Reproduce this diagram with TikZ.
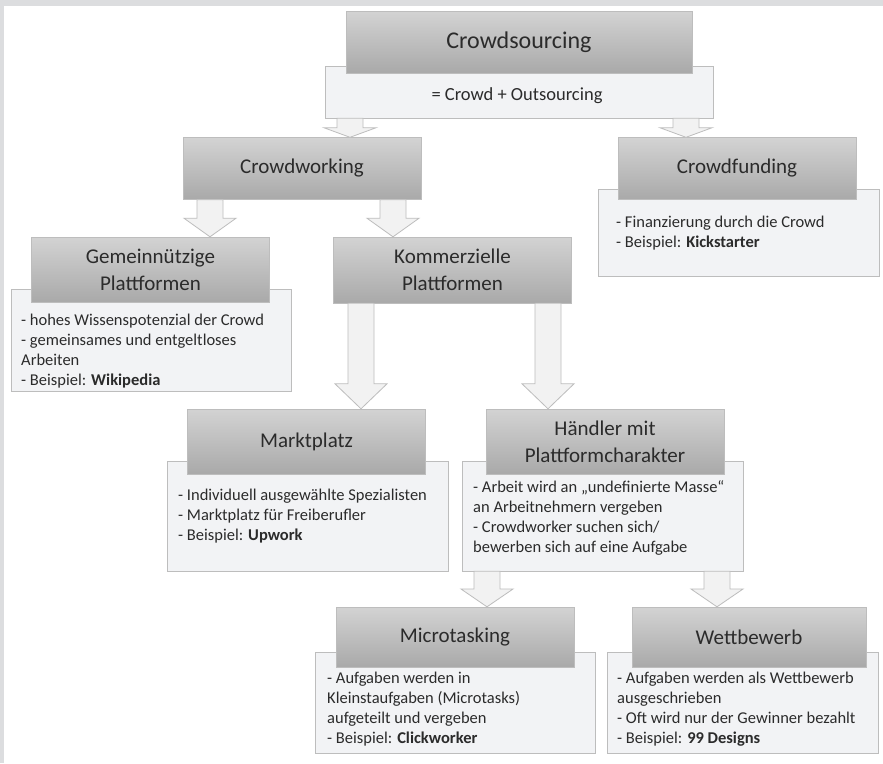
\documentclass[tikz,border=0pt]{standalone}
\usepackage{fontspec}
\setmainfont{Carlito}
\usetikzlibrary{calc}

\definecolor{framegray}{HTML}{DCDDDF}
\definecolor{edgegray}{HTML}{BDBDBD}
\definecolor{headtop}{HTML}{D3D3D3}
\definecolor{headbot}{HTML}{A9A9A9}
\definecolor{bodyfill}{HTML}{F2F3F5}
\definecolor{arrowfill}{HTML}{F2F2F2}
\definecolor{txtgray}{HTML}{2B2B2B}

% block arrow: x position, start node (south), target node (north)
\newcommand{\blockarrow}[3]{%
  \draw[fatarrow] let \p1=(#2.south), \p2=(#3.north),
      \n1={min(0.5*(\y1-\y2),25)} in
    ({#1*1pt-13pt},\y1) -- ({#1*1pt-13pt},{\y2+\n1*1pt})
    -- ({#1*1pt-26pt},{\y2+\n1*1pt}) -- ({#1*1pt},\y2)
    -- ({#1*1pt+26pt},{\y2+\n1*1pt}) -- ({#1*1pt+13pt},{\y2+\n1*1pt})
    -- ({#1*1pt+13pt},\y1) -- cycle;}

\begin{document}
\begin{tikzpicture}[x=1pt,y=-1pt,
    head/.style={draw=edgegray, top color=headtop, bottom color=headbot,
      minimum width=238pt, minimum height=62pt, inner sep=0pt,
      align=center, text=txtgray, font=\fontsize{21}{27}\selectfont},
    body/.style={draw=edgegray, fill=bodyfill, inner sep=0pt},
    txt/.style={anchor=north west, align=left, inner sep=0pt,
      text=txtgray, font=\fontsize{16.5}{20}\selectfont},
    fatarrow/.style={draw=edgegray, fill=arrowfill, line width=0.8pt}]

  % frame
  \fill[framegray] (0,0) rectangle (883,763);
  \fill[white] (4,6) rectangle (883,763);
  \useasboundingbox (0,0) rectangle (883,763);

  % top level
  \node[body, minimum width=388pt, minimum height=52pt] (subsrc) at (519,92) {};
  \node[head, minimum width=346pt, font=\fontsize{24}{29}\selectfont] (src) at (519,42) {Crowdsourcing};
  \node[text=txtgray, font=\fontsize{18.5}{22}\selectfont] (srctxt) at (517,96) {= Crowd + Outsourcing};

  % second level
  \node[head] (work) at (302,168.5) {Crowdworking};
  \node[body, minimum width=281pt, minimum height=87pt] (fundb) at (738.5,232.5) {};
  \node[head] (fund) at (737,168.5) {Crowdfunding};
  \node[txt] (fundtxt) at (616,216) {- Finanzierung durch die Crowd\\- Beispiel: \textbf{Kickstarter}};

  % third level
  \node[body, minimum width=280pt, minimum height=102pt] (gemb) at (151,340) {};
  \node[head, minimum height=65pt] (gem) at (150.5,269.5) {Gemeinnützige\\Plattformen};
  \node[txt] (gemtxt) at (21,314) {- hohes Wissenspotenzial der Crowd\\- gemeinsames und entgeltloses\\Arbeiten\\- Beispiel: \textbf{Wikipedia}};
  \node[head, minimum height=66pt] (kom) at (452.5,270) {Kommerzielle\\Plattformen};

  % fourth level
  \node[body, minimum width=281pt, minimum height=110pt] (marktb) at (307.5,516) {};
  \node[head, minimum height=65pt] (markt) at (306.5,441.5) {Marktplatz};
  \node[txt] (markttxt) at (178,489) {- Individuell ausgewählte Spezialisten\\- Marktplatz für Freiberufler\\- Beispiel: \textbf{Upwork}};
  \node[body, minimum width=281pt, minimum height=110pt] (handb) at (602.5,516) {};
  \node[head, minimum height=65pt] (hand) at (605,441.5) {Händler mit\\Plattformcharakter};
  \node[txt] (handtxt) at (473,480) {- Arbeit wird an „undefinierte Masse“\\an Arbeitnehmern vergeben\\- Crowdworker suchen sich/\\bewerben sich auf eine Aufgabe};

  % fifth level
  \node[body, minimum width=280pt, minimum height=101pt] (microb) at (455,702.5) {};
  \node[head, minimum height=60pt] (micro) at (455,637) {Microtasking};
  \node[txt] (microtxt) at (327,672) {- Aufgaben werden in\\Kleinstaufgaben (Microtasks)\\aufgeteilt und vergeben\\- Beispiel: \textbf{Clickworker}};
  \node[body, minimum width=271pt, minimum height=101pt] (wettb) at (742.5,702.5) {};
  \node[head, minimum width=234pt, minimum height=60pt] (wett) at (749,637) {Wettbewerb};
  \node[txt] (wetttxt) at (617,672) {- Aufgaben werden als Wettbewerb\\ausgeschrieben\\- Oft wird nur der Gewinner bezahlt\\- Beispiel: \textbf{99 Designs}};

  % arrows
  \blockarrow{350}{subsrc}{work}
  \blockarrow{686}{subsrc}{fund}
  \blockarrow{210}{work}{gem}
  \blockarrow{393}{work}{kom}
  \blockarrow{361}{kom}{markt}
  \blockarrow{548}{kom}{hand}
  \blockarrow{487}{handb}{micro}
  \blockarrow{717}{handb}{wett}
\end{tikzpicture}
\end{document}
